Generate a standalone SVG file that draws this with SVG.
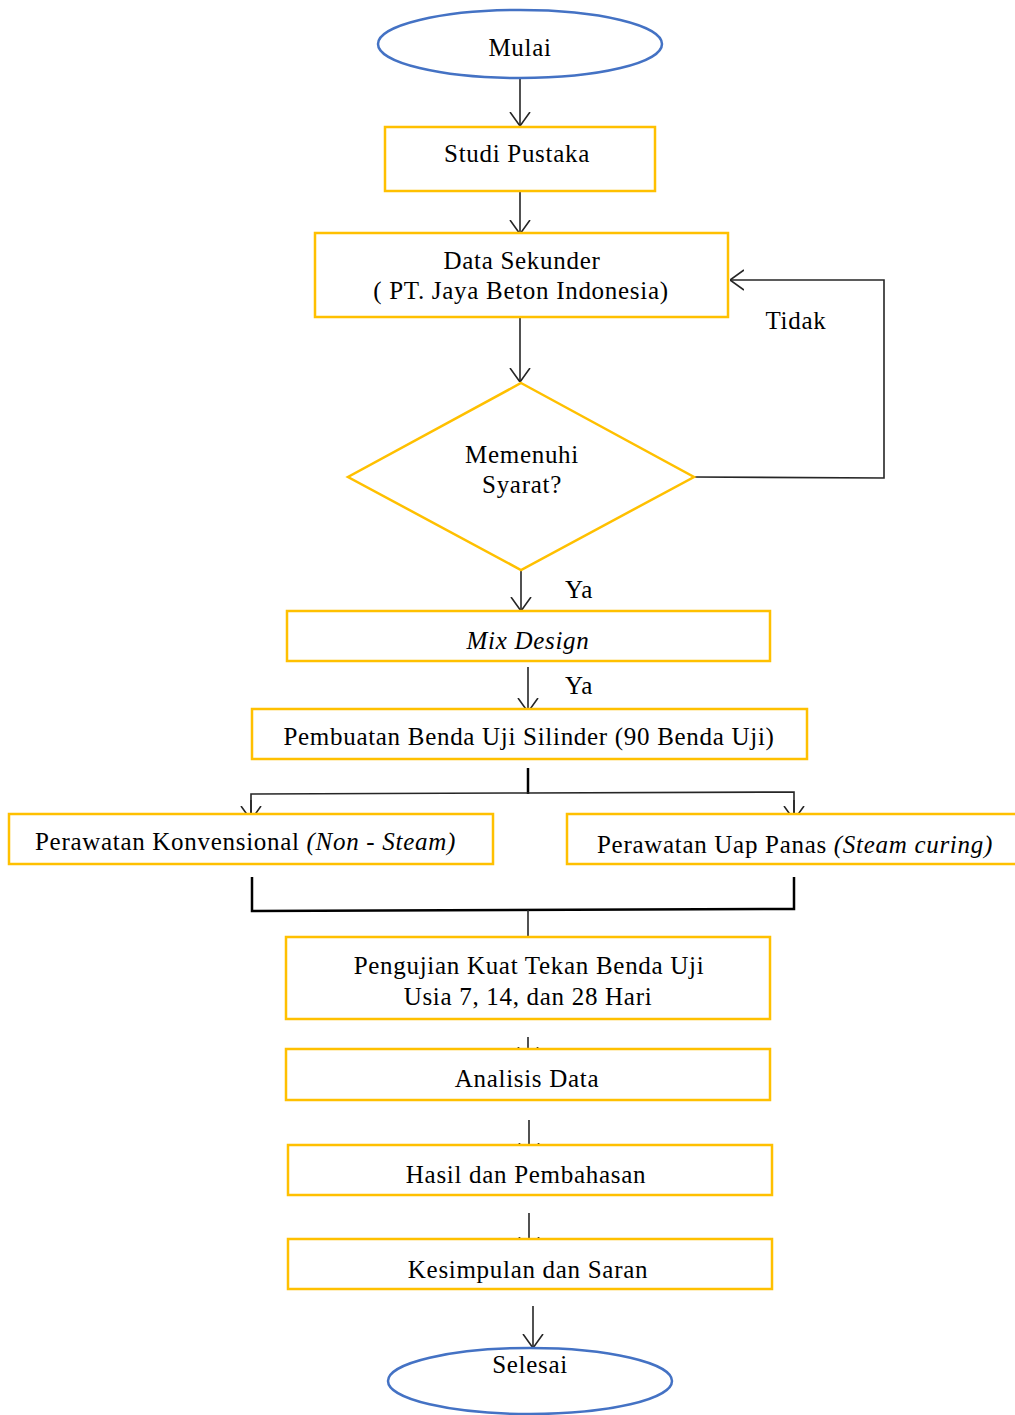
<svg xmlns="http://www.w3.org/2000/svg" width="1015" height="1415" viewBox="0 0 1015 1415">
<defs>
<style>
.box{fill:#fff;stroke:#FFC000;stroke-width:2.5}
.term{fill:#fff;stroke:#4472C4;stroke-width:2.5}
.t{font-family:"Liberation Serif","Times New Roman",serif;font-size:25px;letter-spacing:0.7px;fill:#000}
.c{text-anchor:middle}
.i{font-style:italic}
.ln{fill:none;stroke:#262626;stroke-width:1.6}
.thick{fill:none;stroke:#000;stroke-width:2.5}
</style>
<marker id="arr" viewBox="0 0 14 22" refX="14" refY="11" markerWidth="14" markerHeight="22" markerUnits="userSpaceOnUse" orient="auto">
<path d="M0,1 L14,11 L0,21" fill="none" stroke="#262626" stroke-width="1.6"/>
</marker>
</defs>
<rect width="1015" height="1415" fill="#fff"/>
<g id="connectors">
<line class="ln" x1="520" y1="78" x2="520" y2="126" marker-end="url(#arr)"/>
<line class="ln" x1="520" y1="191" x2="520" y2="234" marker-end="url(#arr)"/>
<line class="ln" x1="520" y1="317" x2="520" y2="382" marker-end="url(#arr)"/>
<polyline class="ln" points="694,477 884,478 884,280 730,280" marker-end="url(#arr)"/>
<line class="ln" x1="521" y1="570" x2="521" y2="611" marker-end="url(#arr)"/>
<line class="ln" x1="528" y1="667" x2="528" y2="712" marker-end="url(#arr)"/>
<line class="thick" x1="528" y1="768" x2="528" y2="794"/>
<polyline class="ln" points="251,820 251,794 528,793 794,792 794,820"/>
<line class="ln" x1="251" y1="800" x2="251" y2="820" marker-end="url(#arr)"/>
<line class="ln" x1="794" y1="800" x2="794" y2="820" marker-end="url(#arr)"/>
<polyline class="thick" points="252,877 252,911 794,909 794,877" stroke-width="2"/>
<line class="ln" x1="528" y1="910" x2="528" y2="937"/>
<line class="ln" x1="528" y1="1037" x2="528" y2="1061" marker-end="url(#arr)"/>
<line class="ln" x1="529" y1="1120" x2="529" y2="1157" marker-end="url(#arr)"/>
<line class="ln" x1="529" y1="1213" x2="529" y2="1251" marker-end="url(#arr)"/>
<line class="ln" x1="533" y1="1306" x2="533" y2="1348" marker-end="url(#arr)"/>
</g>
<g id="mulai">
<ellipse class="term" cx="520" cy="44" rx="142" ry="34"/>
<text class="t c" x="520" y="56">Mulai</text>
</g>
<g id="studi-pustaka">
<rect class="box" x="385" y="127" width="270" height="64"/>
<text class="t c" x="517" y="162">Studi Pustaka</text>
</g>
<g id="data-sekunder">
<rect class="box" x="315" y="233" width="413" height="84"/>
<text class="t c" x="522" y="269">Data Sekunder</text>
<text class="t c" x="521" y="299">( PT. Jaya Beton Indonesia)</text>
</g>
<g id="memenuhi-syarat">
<polygon class="box" points="521,383 694,477 521,570 348,477"/>
<text class="t c" x="522" y="463">Memenuhi</text>
<text class="t c" x="522" y="493">Syarat?</text>
</g>
<g id="labels">
<text class="t c" x="796" y="329">Tidak</text>
<text class="t c" x="579" y="598">Ya</text>
<text class="t c" x="579" y="694">Ya</text>
</g>
<g id="mix-design">
<rect class="box" x="287" y="611" width="483" height="50"/>
<text class="t c i" x="528" y="649">Mix Design</text>
</g>
<g id="pembuatan">
<rect class="box" x="252" y="709" width="555" height="50"/>
<text class="t c" x="529" y="745">Pembuatan Benda Uji Silinder (90 Benda Uji)</text>
</g>
<g id="perawatan-konvensional">
<rect class="box" x="9" y="814" width="484" height="50"/>
<text class="t" x="35" y="850">Perawatan Konvensional <tspan class="i">(Non - Steam)</tspan></text>
</g>
<g id="perawatan-uap">
<rect class="box" x="567" y="814" width="460" height="50"/>
<text class="t" x="597" y="853">Perawatan Uap Panas <tspan class="i">(Steam curing)</tspan></text>
</g>
<g id="pengujian">
<rect class="box" x="286" y="937" width="484" height="82"/>
<text class="t c" x="529" y="974">Pengujian Kuat Tekan Benda Uji</text>
<text class="t c" x="528" y="1005">Usia 7, 14, dan 28 Hari</text>
</g>
<g id="analisis">
<rect class="box" x="286" y="1049" width="484" height="51"/>
<text class="t c" x="527" y="1087">Analisis Data</text>
</g>
<g id="hasil">
<rect class="box" x="288" y="1145" width="484" height="50"/>
<text class="t c" x="526" y="1183">Hasil dan Pembahasan</text>
</g>
<g id="kesimpulan">
<rect class="box" x="288" y="1239" width="484" height="50"/>
<text class="t c" x="528" y="1278">Kesimpulan dan Saran</text>
</g>
<g id="selesai">
<ellipse class="term" cx="530" cy="1381" rx="142" ry="33"/>
<text class="t c" x="530" y="1373">Selesai</text>
</g>
</svg>
